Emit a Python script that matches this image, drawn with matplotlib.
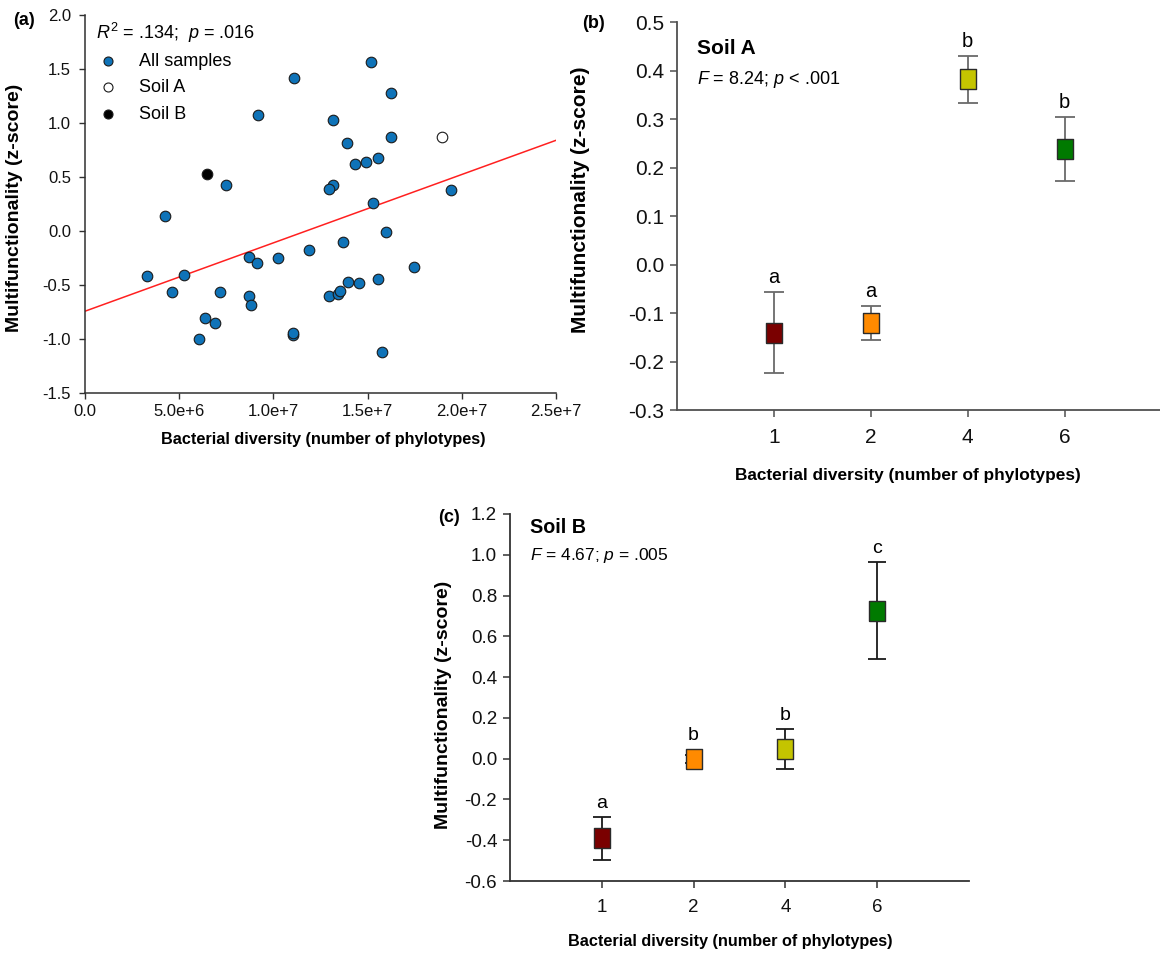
import numpy as np
import matplotlib
matplotlib.use("Agg")
import matplotlib.pyplot as plt
from matplotlib.ticker import FixedLocator, FixedFormatter

plt.rcParams["font.family"] = ["Liberation Sans", "DejaVu Sans"]
plt.rcParams["mathtext.fontset"] = "custom"
plt.rcParams["mathtext.rm"] = "Liberation Sans"
plt.rcParams["mathtext.it"] = "Liberation Sans:italic"
plt.rcParams["mathtext.bf"] = "Liberation Sans:bold"

# ---------------- (a) multifunctionality vs. bacterial diversity ----------------
all_diversity = [15.18e6, 11.07e6, 16.24e6, 9.16e6, 13.18e6, 16.26e6, 13.90e6, 15.57e6,
                 14.90e6, 14.35e6, 7.47e6, 13.14e6, 12.93e6, 19.45e6, 4.23e6, 15.29e6,
                 15.98e6, 13.72e6, 11.90e6, 8.71e6, 9.12e6, 10.27e6, 3.29e6, 5.24e6,
                 17.44e6, 4.60e6, 7.17e6, 8.71e6, 8.82e6, 12.93e6, 13.41e6, 13.53e6,
                 13.96e6, 14.52e6, 15.57e6, 6.38e6, 6.89e6, 6.04e6, 11.03e6, 11.03e6,
                 15.76e6]
all_multifunc = [1.57, 1.42, 1.28, 1.08, 1.03, 0.87, 0.82, 0.68,
                 0.64, 0.62, 0.43, 0.43, 0.39, 0.38, 0.14, 0.26,
                 -0.01, -0.10, -0.17, -0.24, -0.29, -0.25, -0.41, -0.40,
                 -0.33, -0.56, -0.56, -0.60, -0.68, -0.60, -0.58, -0.55,
                 -0.47, -0.48, -0.44, -0.80, -0.85, -1.00, -0.96, -0.94,
                 -1.12]
soil_a_diversity = [18.93e6]
soil_a_multifunc = [0.87]
soil_b_diversity = [6.47e6]
soil_b_multifunc = [0.53]
fit_intercept = -0.74
fit_slope = 6.33e-8
fit_range = [0.0, 2.5e7]

a_xticks = [0.0, 5.0e6, 1.0e7, 1.5e7, 2.0e7, 2.5e7]
a_xticklabels = ["0.0", "5.0e+6", "1.0e+7", "1.5e+7", "2.0e+7", "2.5e+7"]
a_yticks = [-1.5, -1.0, -0.5, 0.0, 0.5, 1.0, 1.5, 2.0]

# ---------------- (b), (c) richness treatments ----------------
richness_levels = ["1", "2", "4", "6"]
level_colors = ["#7a0000", "#ff8a00", "#c4c400", "#007a00"]

soil_a_mean = [-0.140, -0.120, 0.382, 0.238]
soil_a_se = [0.083, 0.035, 0.048, 0.066]
soil_a_letters = ["a", "a", "b", "b"]

soil_b_mean = [-0.390, 0.000, 0.048, 0.725]
soil_b_se = [0.105, 0.020, 0.098, 0.238]
soil_b_letters = ["a", "b", "b", "c"]

b_yticks = [-0.3, -0.2, -0.1, 0.0, 0.1, 0.2, 0.3, 0.4, 0.5]
c_yticks = [-0.6, -0.4, -0.2, 0.0, 0.2, 0.4, 0.6, 0.8, 1.0, 1.2]

W, H = 1160, 957
fig = plt.figure(figsize=(W / 100, H / 100), dpi=100)


def px_box(left, top, right, bottom):
    return [left / W, 1 - bottom / H, (right - left) / W, (bottom - top) / H]


ylab = "Multifunctionality (z-score)"
xlab = "Bacterial diversity (number of phylotypes)"

# ---------------- panel (a) ----------------
ax_a = fig.add_axes(px_box(85, 15.3, 556, 393.3))
for s in ("top", "right"):
    ax_a.spines[s].set_visible(False)
for s in ("left", "bottom"):
    ax_a.spines[s].set_color("#303030")
    ax_a.spines[s].set_linewidth(1.1)
ax_a.set_xlim(0, 2.5e7)
ax_a.set_ylim(-1.5, 2.0)
ax_a.xaxis.set_major_locator(FixedLocator(a_xticks))
ax_a.xaxis.set_major_formatter(FixedFormatter(a_xticklabels))
ax_a.set_yticks(a_yticks)
ax_a.set_yticklabels([f"{v:.1f}" for v in a_yticks])
ax_a.tick_params(direction="out", length=4, width=1, color="#303030",
                 labelsize=12, labelcolor="#111111")
ax_a.tick_params(axis="y", pad=6)
ax_a.tick_params(axis="x", pad=4)

fx = np.array(fit_range)
ax_a.plot(fx, fit_intercept + fit_slope * fx, color="#ff2020", lw=1.1, zorder=2)
h_all = ax_a.scatter(all_diversity, all_multifunc, s=58, c="#0f73b8",
                     edgecolors="#1a1a1a", linewidths=0.8, zorder=3, label="All samples")
h_a = ax_a.scatter(soil_a_diversity, soil_a_multifunc, s=58, c="white",
                   edgecolors="#1a1a1a", linewidths=0.8, zorder=3, label="Soil A")
h_b = ax_a.scatter(soil_b_diversity, soil_b_multifunc, s=58, c="black",
                   edgecolors="#1a1a1a", linewidths=0.8, zorder=3, label="Soil B")
ax_a.text(0.6e6, 1.785, r"$R^2$ = .134;  $p$ = .016", fontsize=13, va="baseline")
leg = ax_a.legend(handles=[h_all, h_a, h_b], loc="upper left",
                  bbox_to_anchor=(0.015, 0.915), frameon=False, fontsize=13,
                  handletextpad=1.1, labelspacing=0.52, borderaxespad=0.0,
                  handlelength=1.2, markerscale=0.85, borderpad=0.3)
ax_a.set_xlabel(xlab, fontsize=11.7, fontweight="bold")
ax_a.xaxis.set_label_coords(0.506, -0.121)
ax_a.xaxis.label.set_va("center")
ax_a.set_ylabel(ylab, fontsize=14, fontweight="bold")
ax_a.yaxis.set_label_coords(-0.149, 0.49)
ax_a.yaxis.label.set_va("center")
fig.text(13 / W, 1 - 25 / H, "(a)", fontsize=13, fontweight="bold", va="baseline")

# rectangular marker, slightly taller than wide
box_marker = [(-0.44, -0.5), (0.44, -0.5), (0.44, 0.5), (-0.44, 0.5), (-0.44, -0.5)]


def treatment_panel(ax, means, ses, letters, ylim, yticks, err_color, capsize,
                    msize, tick_fs, letter_fs, spine_color):
    pos = np.arange(1, len(richness_levels) + 1)
    for s in ("top", "right"):
        ax.spines[s].set_visible(False)
    for s in ("left", "bottom"):
        ax.spines[s].set_color(spine_color)
        ax.spines[s].set_linewidth(1.3)
    ax.set_xlim(0, 5)
    ax.set_ylim(*ylim)
    ax.set_xticks(pos)
    ax.set_xticklabels(richness_levels)
    ax.set_yticks(yticks)
    ax.set_yticklabels([f"{v:.1f}" for v in yticks])
    ax.tick_params(direction="out", length=5, width=1.1, color=spine_color,
                   labelsize=tick_fs, labelcolor="#111111")
    ax.tick_params(axis="y", pad=4)
    ax.tick_params(axis="x", pad=8)
    ax.errorbar(pos, means, yerr=ses, fmt="none", ecolor=err_color, elinewidth=1.3,
                capsize=capsize, capthick=1.3, zorder=2)
    for p, m, c in zip(pos, means, level_colors):
        ax.plot([p], [m], marker=box_marker, markersize=msize, color=c,
                markeredgecolor="#2a2a2a", markeredgewidth=1.0, linestyle="none",
                zorder=4)
    # significance letters sit above the error bar or the marker, whichever is higher
    half_box = msize / 72 * fig.dpi / 2
    for p, m, e, lt in zip(pos, means, ses, letters):
        y_err = ax.transData.transform((p, m + e))[1]
        y_box = ax.transData.transform((p, m))[1] + half_box
        y_txt = max(y_err, y_box) + 9
        yd = ax.transData.inverted().transform((0, y_txt))[1]
        ax.text(p, yd, lt, ha="center", va="baseline", fontsize=letter_fs)
    ax.set_xlabel(xlab, fontweight="bold")
    ax.set_ylabel(ylab, fontweight="bold")
    ax.xaxis.label.set_va("center")
    ax.yaxis.label.set_va("center")


# ---------------- panel (b) ----------------
ax_b = fig.add_axes(px_box(676.7, 22.1, 1161.7, 410.3))
treatment_panel(ax_b, soil_a_mean, soil_a_se, soil_a_letters, (-0.3, 0.5), b_yticks,
                "#6a6a6a", 7.5, 13.7, 15, 14.5, "#505050")
ax_b.xaxis.label.set_fontsize(12.4)
ax_b.yaxis.label.set_fontsize(15)
ax_b.xaxis.set_label_coords(0.476, -0.167)
ax_b.yaxis.set_label_coords(-0.199, 0.542)
ax_b.text(0.21, 0.435, "Soil A", fontsize=15, fontweight="bold", va="baseline")
ax_b.text(0.21, 0.372, r"$F$ = 8.24; $p$ < .001", fontsize=13, va="baseline")
fig.text(582 / W, 1 - 28 / H, "(b)", fontsize=13, fontweight="bold", va="baseline")

# ---------------- panel (c) ----------------
ax_c = fig.add_axes(px_box(509.7, 514, 969.3, 881))
treatment_panel(ax_c, soil_b_mean, soil_b_se, soil_b_letters, (-0.6, 1.2), c_yticks,
                "#1a1a1a", 6.7, 13.7, 13.5, 14, "#333333")
ax_c.xaxis.label.set_fontsize(11.7)
ax_c.yaxis.label.set_fontsize(14)
ax_c.xaxis.set_label_coords(0.480, -0.1635)
ax_c.yaxis.set_label_coords(-0.145, 0.48)
ax_c.text(0.22, 1.105, "Soil B", fontsize=14.2, fontweight="bold", va="baseline")
ax_c.text(0.22, 0.974, r"$F$ = 4.67; $p$ = .005", fontsize=12.5, va="baseline")
fig.text(438.6 / W, 1 - 522 / H, "(c)", fontsize=13, fontweight="bold", va="baseline")

fig.savefig("out.png", dpi=100)
